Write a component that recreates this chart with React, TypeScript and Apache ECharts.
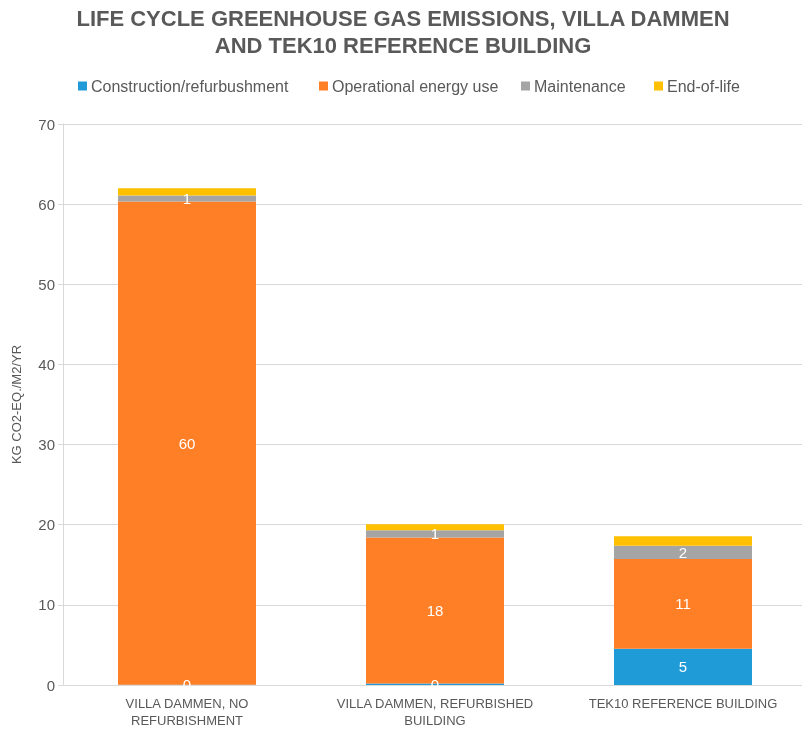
import React, { useEffect, useRef } from "react";
import * as echarts from "echarts";

const categories = [
  "VILLA DAMMEN, NO\nREFURBISHMENT",
  "VILLA DAMMEN, REFURBISHED\nBUILDING",
  "TEK10 REFERENCE BUILDING",
];
const seriesNames = [
  "Construction/refurbushment",
  "Operational energy use",
  "Maintenance",
  "End-of-life",
];
const construction = [0.03, 0.2, 4.53];
const operational = [60.3, 18.2, 11.2];
const maintenance = [0.75, 0.9, 1.66];
const endOfLife = [0.9, 0.75, 1.17];
const yTicks = [0, 10, 20, 30, 40, 50, 60, 70];

const colors = ["#1F9BD7", "#FF7F27", "#A5A5A5", "#FFC000"];
const legendLefts = [78, 319, 521, 654];
const FONT = "Liberation Sans, Arial, sans-serif";
const GRAY = "#595959";

export default function App() {
  const ref = useRef<HTMLDivElement>(null);
  useEffect(() => {
    if (!ref.current) return;
    const chart = echarts.init(ref.current, null, { renderer: "svg" });
    const data = [construction, operational, maintenance, endOfLife];
    const showLabel = [true, true, true, false];
    chart.setOption({
      animation: false,
      textStyle: { fontFamily: FONT },
      title: {
        text: "LIFE CYCLE GREENHOUSE GAS EMISSIONS, VILLA DAMMEN\nAND TEK10 REFERENCE BUILDING",
        left: 398,
        textAlign: "center",
        top: 0,
        textStyle: {
          fontFamily: FONT,
          fontSize: 22,
          fontWeight: "bold",
          color: GRAY,
          lineHeight: 27,
        },
      },
      legend: seriesNames.map((n, i) => ({
        data: [n],
        left: legendLefts[i],
        top: 78,
        padding: 0,
        itemWidth: 9,
        itemHeight: 9,
        itemGap: 4,
        icon: "rect",
        textStyle: { fontFamily: FONT, fontSize: 16, color: GRAY, padding: [0, 0, 0, -1] },
      })),
      grid: { left: 63, top: 124, width: 744, height: 561, containLabel: false },
      xAxis: {
        type: "category",
        data: categories,
        axisLine: { lineStyle: { color: "#D9D9D9" } },
        axisTick: { show: false },
        axisLabel: {
          color: GRAY,
          fontSize: 13,
          fontFamily: FONT,
          lineHeight: 17,
          margin: 10,
          interval: 0,
        },
      },
      yAxis: {
        type: "value",
        min: yTicks[0],
        max: yTicks[yTicks.length - 1],
        interval: 10,
        name: "KG CO2-EQ./M2/YR",
        nameLocation: "middle",
        nameGap: 40,
        nameTextStyle: { color: GRAY, fontSize: 13, fontFamily: FONT },
        axisLine: { show: true, lineStyle: { color: "#D9D9D9" } },
        axisTick: { show: true, length: 5, lineStyle: { color: "#D9D9D9" } },
        axisLabel: { color: GRAY, fontSize: 15, fontFamily: FONT, margin: 8 },
        splitLine: { lineStyle: { color: "#D9D9D9" } },
      },
      series: seriesNames.map((n, i) => ({
        name: n,
        type: "bar",
        stack: "total",
        barWidth: 138,
        data: data[i],
        itemStyle: { color: colors[i] },
        label: {
          show: showLabel[i],
          position: "inside",
          color: "#FFFFFF",
          fontSize: 15,
          fontFamily: FONT,
          formatter: (p: any) => String(Math.round(p.value)),
        },
      })),
    });
    return () => chart.dispose();
  }, []);
  return (
    <div
      ref={ref}
      style={{ position: "fixed", left: 0, top: 0, width: 812, height: 729 }}
    />
  );
}
